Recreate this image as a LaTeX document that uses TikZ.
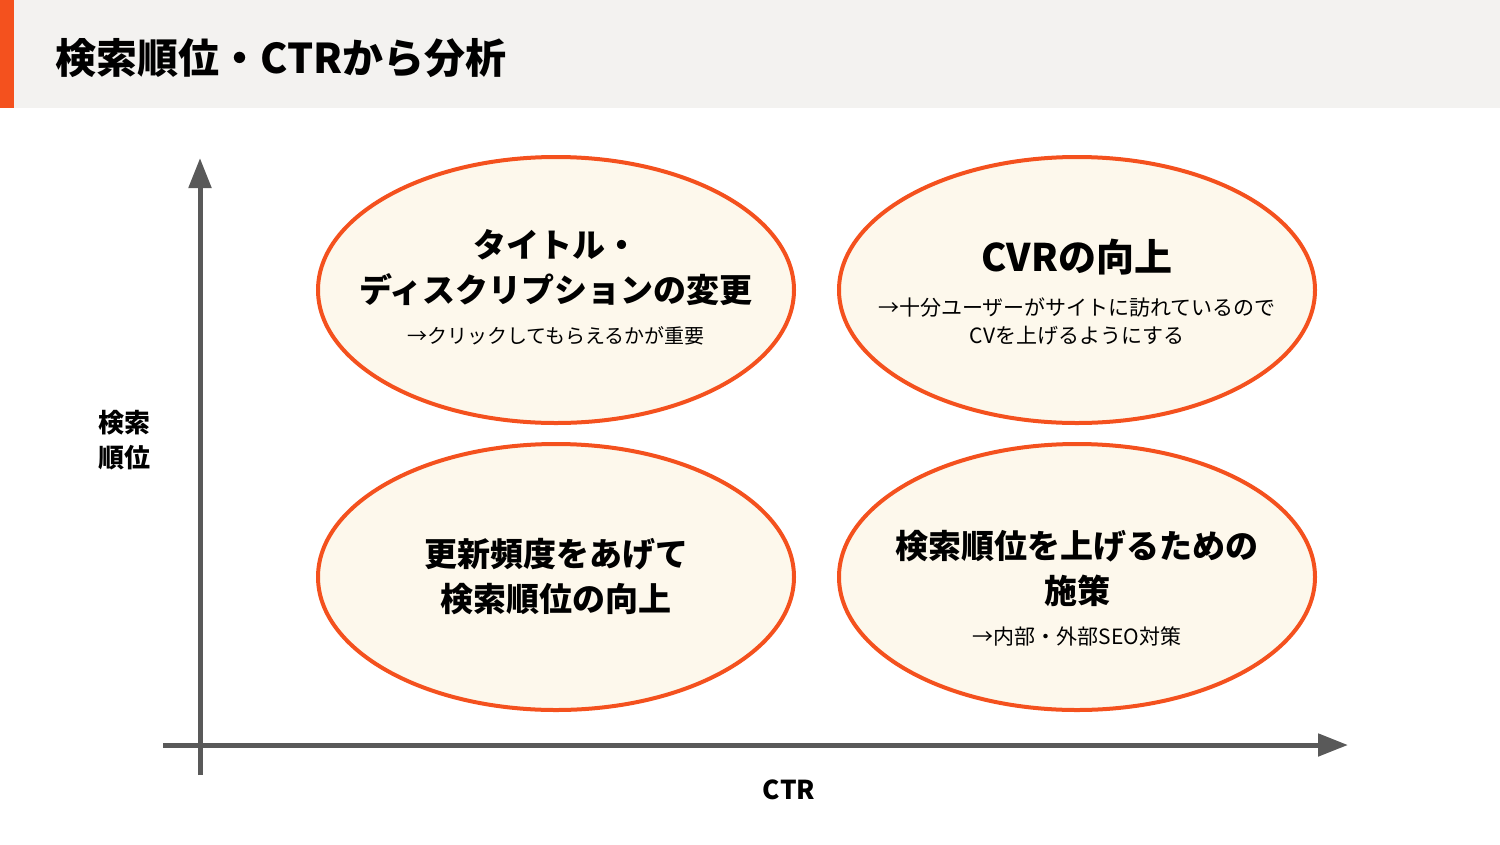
\documentclass[tikz,border=0pt]{standalone}
\usepackage{fontspec}
\setmainfont{Noto Sans CJK JP}
\usepackage{xcolor}
\usepackage{tikz}
\usetikzlibrary{positioning,shapes.geometric,arrows.meta}

\definecolor{accent}{HTML}{F4511E}
\definecolor{cream}{HTML}{FDF8EC}
\definecolor{band}{HTML}{F3F2F0}
\definecolor{axisgray}{HTML}{595959}

\begin{document}
\begin{tikzpicture}[
    x=1pt,y=-1pt,
    quadrant/.style={
        ellipse,draw=accent,fill=cream,line width=4pt,
        minimum width=476pt,
        minimum height=266pt
    },
    head/.style={font=\bfseries\fontsize{33}{45}\selectfont,align=center},
    note/.style={font=\fontsize{21}{28}\selectfont,align=center},
    axis/.style={draw=axisgray,line width=5pt,-{Triangle[length=30pt,width=22pt]}},
    axislabel/.style={font=\bfseries\fontsize{26}{35}\selectfont,align=center}
]
\useasboundingbox (0,0) rectangle (1500,844);
\fill[band] (0,0) rectangle (1500,108);
\fill[accent] (0,0) rectangle (14,108);
\node[anchor=west,font=\bfseries\fontsize{41}{48}\selectfont] (title) at (52,58) {検索順位・CTRから分析};

\node[quadrant] (title-desc) at (556,290) {};
\node[quadrant, right=41pt of title-desc] (cvr) {};
\node[quadrant, below=17pt of title-desc] (freq) {};
\node[quadrant, below=17pt of cvr] (seo) {};

\node[head] (title-desc-head) at ([yshift=22pt]title-desc) {タイトル・\\ディスクリプションの変更};
\node[note, font=\fontsize{20}{28}\selectfont] (title-desc-note) at ([yshift=-46pt]title-desc) {→クリックしてもらえるかが重要};
\node[head, font=\bfseries\fontsize{38}{45}\selectfont] (cvr-head) at ([yshift=33pt]cvr) {CVRの向上};
\node[note] (cvr-note) at ([yshift=-31pt]cvr) {→十分ユーザーがサイトに訪れているので\\CVを上げるようにする};
\node[head] (freq-head) at (freq) {更新頻度をあげて\\検索順位の向上};
\node[head] (seo-head) at ([yshift=9pt]seo) {検索順位を上げるための\\施策};
\node[note] (seo-note) at ([yshift=-59pt]seo) {→内部・外部SEO対策};

\coordinate (ybot) at (200,775);
\coordinate (ytop) at (200,158);
\coordinate (xleft) at (163,745);
\coordinate (xright) at (1348,745);
\draw[axis] (ybot) -- (ytop);
\draw[axis] (xleft) -- (xright);

\node[axislabel] (ylabel) at (124,440) {検索\\順位};
\node[axislabel] (xlabel) at (789,790) {CTR};
\end{tikzpicture}
\end{document}
